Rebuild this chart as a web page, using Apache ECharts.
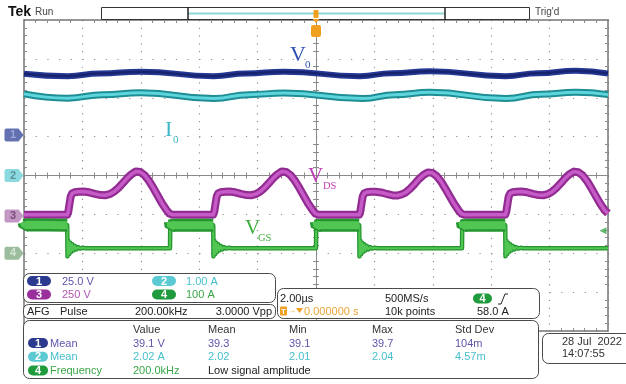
<!DOCTYPE html>
<html>
<head>
<meta charset="utf-8">
<script src="https://cdn.jsdelivr.net/npm/echarts@6/dist/echarts.min.js"></script>
<style>
  html, body { margin: 0; padding: 0; background: #ffffff; }
  #scope { width: 626px; height: 384px; }
</style>
</head>
<body>
<div id="scope"></div>
<script>
// ---- Horizontal: 2 µs/div, 10 divisions, trigger at centre ----
const timeRangeUs = [-10, 10];
const timePerDivUs = 2;

// ---- Vertical settings per channel: units/div and ground position (div from centre) ----
const channelIds = ['1', '2', '3', '4'];
const channelScale = [25, 1, 250, 100];
const channelOffsetDiv = [1.04, 0, -1.04, -2];

// CH1: output voltage V0 [µs, V]
const v0Trace = [
  [-10, 39.5], [-8.5, 37.9], [-7.4, 39.6], [-6.0, 40.8], [-3.5, 37.9], [-2.4, 39.6], [-1.1, 40.8],
  [1.5, 37.9], [2.6, 39.8], [3.9, 41.1], [6.5, 37.9], [7.6, 39.8], [8.9, 41.4], [10, 39.6]
];

// CH2: output current I0 [µs, A]
const i0Trace = [
  [-10, 2.10], [-8.5, 1.99], [-7.3, 2.08], [-6.0, 2.13], [-3.5, 1.98], [-2.3, 2.08], [-1.1, 2.12],
  [1.6, 1.98], [2.7, 2.08], [3.9, 2.14], [6.5, 1.98], [7.7, 2.09], [8.9, 2.14], [10, 2.08]
];

// CH3: drain-source voltage VDS [µs, V]
const vdsTrace = [
  [-10, 7], [-8.52, 7], [-8.48, 30], [-8.44, 80], [-8.40, 125], [-8.35, 145], [-8.27, 152], [-8.12, 156],
  [-7.97, 157], [-7.77, 152], [-7.57, 142], [-7.37, 134], [-7.22, 133], [-7.07, 140], [-6.92, 155],
  [-6.77, 180], [-6.62, 210], [-6.47, 242], [-6.32, 268], [-6.17, 286], [-6.02, 282], [-5.87, 262],
  [-5.72, 226], [-5.57, 180], [-5.42, 130], [-5.27, 80], [-5.12, 38], [-5.02, 15], [-4.92, 8],
  [-3.52, 7], [-3.48, 30], [-3.44, 80], [-3.40, 125], [-3.35, 145], [-3.27, 152], [-3.12, 156],
  [-2.97, 157], [-2.77, 152], [-2.57, 142], [-2.37, 134], [-2.22, 133], [-2.07, 140], [-1.92, 155],
  [-1.77, 180], [-1.62, 210], [-1.47, 242], [-1.32, 268], [-1.17, 286], [-1.02, 282], [-0.87, 262],
  [-0.72, 226], [-0.57, 180], [-0.42, 130], [-0.27, 80], [-0.12, 38], [-0.02, 15], [0.08, 8],
  [1.48, 7], [1.52, 30], [1.56, 80], [1.60, 125], [1.65, 145], [1.73, 152], [1.88, 155],
  [2.03, 156], [2.23, 151], [2.43, 141], [2.63, 132], [2.78, 131], [2.93, 138], [3.08, 152],
  [3.23, 176], [3.38, 206], [3.53, 238], [3.68, 263], [3.83, 280], [3.98, 277], [4.13, 257],
  [4.28, 222], [4.43, 176], [4.58, 127], [4.73, 78], [4.88, 36], [4.98, 14], [5.08, 8],
  [6.48, 7], [6.52, 30], [6.56, 80], [6.60, 125], [6.65, 145], [6.73, 152], [6.88, 156],
  [7.03, 157], [7.23, 152], [7.43, 142], [7.63, 134], [7.78, 133], [7.93, 140], [8.08, 155],
  [8.23, 180], [8.38, 210], [8.53, 242], [8.68, 268], [8.83, 285], [8.98, 281], [9.13, 261],
  [9.28, 225], [9.43, 179], [9.58, 129], [9.73, 80], [9.88, 38], [10, 16]
];

// CH4: gate pulse VGS (100 A/div probe) [µs, A]
const vgsTrace = [
  [-10, 80], [-9.97, 71], [-9.9, 73], [-8.52, 72],
  [-8.51, -8], [-8.48, 32], [-8.45, -2], [-8.42, 27], [-8.39, 3], [-8.35, 23], [-8.31, 7], [-8.26, 19],
  [-8.21, 10], [-8.15, 16], [-8.08, 12], [-8.0, 14], [-7.9, 13],
  [-5.0, 13], [-4.99, 82], [-4.96, 69], [-4.92, 73], [-4.88, 72],
  [-3.52, 72],
  [-3.51, -8], [-3.48, 32], [-3.45, -2], [-3.42, 27], [-3.39, 3], [-3.35, 23], [-3.31, 7], [-3.26, 19],
  [-3.21, 10], [-3.15, 16], [-3.08, 12], [-3.0, 14], [-2.9, 13],
  [0, 13], [0.01, 82], [0.04, 69], [0.08, 73], [0.12, 72],
  [1.48, 72],
  [1.49, -8], [1.52, 32], [1.55, -2], [1.58, 27], [1.61, 3], [1.65, 23], [1.69, 7], [1.74, 19],
  [1.79, 10], [1.85, 16], [1.92, 12], [2.0, 14], [2.1, 13],
  [5.0, 13], [5.01, 82], [5.04, 69], [5.08, 73], [5.12, 72],
  [6.48, 72],
  [6.49, -8], [6.52, 32], [6.55, -2], [6.58, 27], [6.61, 3], [6.65, 23], [6.69, 7], [6.74, 19],
  [6.79, 10], [6.85, 16], [6.92, 12], [7.0, 14], [7.1, 13],
  [10, 13]
];
const triggerLevelA = 58.0;

// Readouts
const scaleReadout = ['25.0 V', '1.00 A', '250 V', '100 A'];
const afgReadout = ['AFG', 'Pulse', '200.00kHz', '3.0000 Vpp'];
const timebaseReadout = ['2.00\u00b5s', '500MS/s', '0.000000 s', '10k points', '58.0 A'];
const measHeader = ['Value', 'Mean', 'Min', 'Max', 'Std Dev'];
const measRows = [
  { ch: 0, name: 'Mean', cells: ['39.1 V', '39.3', '39.1', '39.7', '104m'] },
  { ch: 1, name: 'Mean', cells: ['2.02 A', '2.02', '2.01', '2.04', '4.57m'] },
  { ch: 3, name: 'Frequency', cells: ['200.0kHz', 'Low signal amplitude'] }
];
const dateReadout = ['28 Jul  2022', '14:07:55'];

// ---- Colours ----
const badgeColor = ['#2b3a8f', '#5ccad2', '#9a2e9c', '#1f9b3d'];
const readoutColor = ['#5d56aa', '#47bfcd', '#b055b2', '#3aa648'];
const markerFill = ['#3c4e9e', '#6fd0d8', '#b27db4', '#82ad85'];
const markerText = ['#a9b4e2', '#4d7f86', '#6b3a6c', '#e3ede3'];
const traceOuter = ['#253893', '#1f8e94', '#922c92', '#24952f'];
const traceInner = ['#18236f', '#5dd5dc', '#c65ac6', '#52c653'];
const borderGrey = '#767676';
const dotGrey = '#8e8e8e';
const uiFont = 'Liberation Sans';
const serif = 'Liberation Serif';

// Channel axis range derived from scale and ground position
function channelAxis(i) {
  return {
    type: 'value', show: false,
    min: (-4 - channelOffsetDiv[i]) * channelScale[i],
    max: (4 - channelOffsetDiv[i]) * channelScale[i],
    axisLine: { onZero: false }
  };
}

function borderXAxis(position, withGrid) {
  return {
    type: 'value', min: timeRangeUs[0], max: timeRangeUs[1], interval: timePerDivUs,
    position: position,
    axisLine: { show: true, onZero: false, lineStyle: { color: borderGrey, width: 1.5 } },
    axisTick: { show: false, inside: true },
    minorTick: { show: true, splitNumber: 5, length: 3, lineStyle: { color: dotGrey, width: 1 } },
    axisLabel: { show: false },
    splitLine: { show: withGrid, lineStyle: { color: dotGrey, width: 1.2, type: [1.2, 6.575] } }
  };
}
function centreXAxis(position, showLine) {
  return {
    type: 'value', min: timeRangeUs[0], max: timeRangeUs[1], interval: timePerDivUs,
    position: position,
    axisLine: { show: showLine, onZero: true, onZeroAxisIndex: 0, lineStyle: { color: '#8a8a8a', width: 1 } },
    axisTick: { show: false, inside: true },
    minorTick: { show: true, splitNumber: 5, length: 3, lineStyle: { color: '#8a8a8a', width: 1 } },
    axisLabel: { show: false },
    splitLine: { show: false }
  };
}
function borderYAxis(position, withGrid) {
  return {
    type: 'value', min: -4, max: 4, interval: 1,
    position: position,
    axisLine: { show: true, onZero: false, lineStyle: { color: borderGrey, width: 1.5 } },
    axisTick: { show: false, inside: true },
    minorTick: { show: true, splitNumber: 5, length: 3, lineStyle: { color: dotGrey, width: 1 } },
    axisLabel: { show: false },
    splitLine: { show: withGrid, lineStyle: { color: dotGrey, width: 1.2, type: [1.2, 10.48] } }
  };
}
function centreYAxis(position, showLine) {
  return {
    type: 'value', min: -4, max: 4, interval: 1,
    position: position,
    axisLine: { show: showLine, onZero: true, onZeroAxisIndex: 0, lineStyle: { color: '#8a8a8a', width: 1 } },
    axisTick: { show: false, inside: true },
    minorTick: { show: true, splitNumber: 5, length: 3, lineStyle: { color: '#8a8a8a', width: 1 } },
    axisLabel: { show: false },
    splitLine: { show: false }
  };
}

function traceSeries(data, ch, outerW, innerW, smooth) {
  const common = {
    type: 'line', xAxisIndex: 0, yAxisIndex: 4 + ch, data: data,
    showSymbol: false, symbol: 'none', smooth: smooth, smoothMonotone: 'x',
    silent: true, animation: false, z: 3
  };
  return [
    Object.assign({}, common, { lineStyle: { color: traceOuter[ch], width: outerW, join: 'round', cap: 'butt' } }),
    Object.assign({}, common, { lineStyle: { color: traceInner[ch], width: innerW, join: 'round', cap: 'butt' } })
  ];
}

// Gate pulse flat tops are noisier: thicker band drawn over the high segments only
const vgsHighBand = vgsTrace.map(p => (p[1] >= 60 ? p : [p[0], null]));

const series = [];
series.push(...traceSeries(v0Trace, 0, 6, 2.5, 0.5));
series.push(...traceSeries(i0Trace, 1, 7, 3, 0.5));
series.push(...traceSeries(vdsTrace, 2, 8, 3.5, false));
series.push(...traceSeries(vgsTrace, 3, 4.5, 2, false));
series.push({
  type: 'line', xAxisIndex: 0, yAxisIndex: 7, data: vgsHighBand, connectNulls: false,
  showSymbol: false, symbol: 'none', silent: true, animation: false, z: 3,
  lineStyle: { color: traceOuter[3], width: 13, cap: 'butt' }
});
series.push({
  type: 'line', xAxisIndex: 0, yAxisIndex: 7, data: vgsHighBand, connectNulls: false,
  showSymbol: false, symbol: 'none', silent: true, animation: false, z: 3,
  lineStyle: { color: traceInner[3], width: 8, cap: 'butt' }
});

// Ground reference tags on the left edge
channelIds.forEach((id, i) => {
  series.push({
    type: 'scatter', xAxisIndex: 0, yAxisIndex: 4 + i, clip: false, silent: true, animation: false, z: 6,
    data: [[timeRangeUs[0], 0]],
    symbol: 'path://M2,0 L14,0 L19,6.5 L14,13 L2,13 Q0,13 0,11 L0,2 Q0,0 2,0 Z',
    symbolSize: [19, 13], symbolOffset: [-10, 0],
    itemStyle: { color: markerFill[i] },
    label: { show: true, position: 'inside', offset: [-1, 0], formatter: id,
             color: markerText[i], fontSize: 11, fontWeight: 'bold', fontFamily: uiFont }
  });
});
// Trigger level arrow on the right edge
series.push({
  type: 'scatter', xAxisIndex: 0, yAxisIndex: 7, clip: false, silent: true, animation: false, z: 6,
  data: [[timeRangeUs[1], triggerLevelA]],
  symbol: 'triangle', symbolSize: [7, 7], symbolRotate: 90, symbolOffset: [-5, 0],
  itemStyle: { color: '#3aa648' }
});

// ---- Screen furniture ----
const g = [];
function txt(x, y, s, fill, size, extra) {
  g.push(Object.assign({
    type: 'text', z: 100, silent: true,
    style: Object.assign({ x: x, y: y, text: s, fill: fill, font: (size || 11) + 'px "' + uiFont + '"',
                           verticalAlign: 'middle', align: 'left' }, extra || {})
  }));
}
function box(x, y, w, h, r) {
  g.push({ type: 'rect', z: 99, silent: true, shape: { x: x, y: y, width: w, height: h, r: r },
           style: { fill: '#ffffff', stroke: '#4a4a4a', lineWidth: 1 } });
}
function badge(x, y, w, h, ch) {
  g.push({ type: 'rect', z: 100, silent: true, shape: { x: x, y: y - h / 2, width: w, height: h, r: h / 2 },
           style: { fill: badgeColor[ch] } });
  txt(x + w / 2, y + 0.5, channelIds[ch], '#ffffff', 11, { align: 'center', font: 'bold 11px "' + uiFont + '"' });
}
function label(x, y, main, subX, sub, fill, mainSize, subSize) {
  txt(x, y, main, fill, mainSize, { font: mainSize + 'px "' + serif + '"' });
  txt(subX, y + mainSize * 0.45, sub, fill, subSize, { font: subSize + 'px "' + serif + '"' });
}

// Header
txt(8, 12, 'Tek', '#111111', 14, { font: 'bold 14px "' + uiFont + '"' });
txt(35, 12.5, 'Run', '#444444', 10);
g.push({ type: 'rect', z: 99, silent: true, shape: { x: 101.5, y: 7.5, width: 428, height: 12 },
         style: { fill: '#ffffff', stroke: '#333333', lineWidth: 1 } });
g.push({ type: 'line', z: 100, silent: true, shape: { x1: 188, y1: 13.5, x2: 445, y2: 13.5 },
         style: { stroke: '#8fd6d6', lineWidth: 2 } });
g.push({ type: 'line', z: 100, silent: true, shape: { x1: 188, y1: 7, x2: 188, y2: 20 },
         style: { stroke: '#222222', lineWidth: 1.5 } });
g.push({ type: 'line', z: 100, silent: true, shape: { x1: 445, y1: 7, x2: 445, y2: 20 },
         style: { stroke: '#222222', lineWidth: 1.5 } });
g.push({ type: 'rect', z: 101, silent: true, shape: { x: 313.5, y: 10, width: 5, height: 8, r: 1 },
         style: { fill: '#f0a020' } });
g.push({ type: 'polygon', z: 101, silent: true, shape: { points: [[312.5, 19], [319.5, 19], [316, 23]] },
         style: { fill: '#f0a020' } });
g.push({ type: 'rect', z: 101, silent: true, shape: { x: 311, y: 25, width: 10, height: 12, r: 2 },
         style: { fill: '#f0a020' } });
txt(316, 31.5, 'T', '#ffffff', 10, { align: 'center', font: 'bold 10px "' + uiFont + '"' });
txt(535, 12.5, "Trig'd", '#444444', 10);

// Waveform names
label(290, 55, 'V', 305, '0', '#2e4fb5', 22, 11);
label(165, 130.5, 'I', 173, '0', '#3cb9c9', 22, 11);
label(308, 176.5, 'V', 323, 'DS', '#c03cb5', 21, 10.5);
label(245, 228.5, 'V', 258, 'GS', '#3cae3c', 21, 10.5);

// Channel scale box
box(23.5, 273.5, 252, 29, 6);
badge(27, 281, 24, 10, 0); txt(62, 281.5, scaleReadout[0], readoutColor[0]);
badge(152, 281, 24, 10, 1); txt(186, 281.5, scaleReadout[1], readoutColor[1]);
badge(27, 294.5, 24, 10, 2); txt(62, 295, scaleReadout[2], readoutColor[2]);
badge(152, 294.5, 24, 10, 3); txt(186, 295, scaleReadout[3], readoutColor[3]);

// AFG box
box(23.5, 304.5, 252, 14, 5);
txt(27, 311.5, afgReadout[0], '#222222');
txt(60, 311.5, afgReadout[1], '#222222');
txt(135, 311.5, afgReadout[2], '#222222');
txt(272, 311.5, afgReadout[3], '#222222', 11, { align: 'right' });

// Timebase / trigger box
box(277.5, 288.5, 262, 30, 6);
txt(280, 299, timebaseReadout[0], '#222222');
txt(385, 299, timebaseReadout[1], '#222222');
badge(473, 298.5, 19, 10, 3);
g.push({ type: 'polyline', z: 100, silent: true,
         shape: { points: [[498, 304], [501, 304], [505, 294], [508, 294]] },
         style: { stroke: '#222222', lineWidth: 1, fill: null } });
g.push({ type: 'rect', z: 100, silent: true, shape: { x: 280, y: 306.5, width: 7, height: 9, r: 1 },
         style: { fill: '#f0a020' } });
txt(283.5, 311.5, 'T', '#ffffff', 8, { align: 'center', font: 'bold 8px "' + uiFont + '"' });
txt(288, 311, '\u2192', '#f0a020', 8);
g.push({ type: 'polygon', z: 100, silent: true, shape: { points: [[296, 308], [303, 308], [299.5, 313]] },
         style: { fill: '#f0a020' } });
txt(304, 311.5, timebaseReadout[2], '#eaa436');
txt(385, 311.5, timebaseReadout[3], '#222222');
txt(477, 311.5, timebaseReadout[4], '#222222');

// Measurement box
box(23.5, 320.5, 515, 58, 6);
const measCols = [133, 208, 289, 372, 455];
measHeader.forEach((h, k) => txt(measCols[k], 329.5, h, '#333333'));
measRows.forEach((row, r) => {
  const y = 343 + r * 13.7;
  badge(28, y, 20, 10, row.ch);
  txt(50, y + 0.5, row.name, readoutColor[row.ch]);
  row.cells.forEach((c, k) => {
    const fill = (row.ch === 3 && k > 0) ? '#222222' : readoutColor[row.ch];
    txt(measCols[k], y + 0.5, c, fill);
  });
});

// Date box
box(542.5, 333.5, 90, 30, 6);
txt(562, 341.5, dateReadout[0], '#333333');
txt(562, 354, dateReadout[1], '#333333');

const chart = echarts.init(document.getElementById('scope'), null, { renderer: 'canvas' });
chart.setOption({
  animation: false,
  backgroundColor: '#ffffff',
  grid: { left: 24, top: 20, width: 584, height: 311, containLabel: false, outerBoundsMode: 'none' },
  xAxis: [
    borderXAxis('bottom', true),
    borderXAxis('top', false),
    centreXAxis('bottom', true),
    centreXAxis('top', false)
  ],
  yAxis: [
    borderYAxis('left', true),
    borderYAxis('right', false),
    centreYAxis('left', true),
    centreYAxis('right', false),
    channelAxis(0), channelAxis(1), channelAxis(2), channelAxis(3)
  ],
  series: series,
  graphic: { elements: g }
});
</script>
</body>
</html>
